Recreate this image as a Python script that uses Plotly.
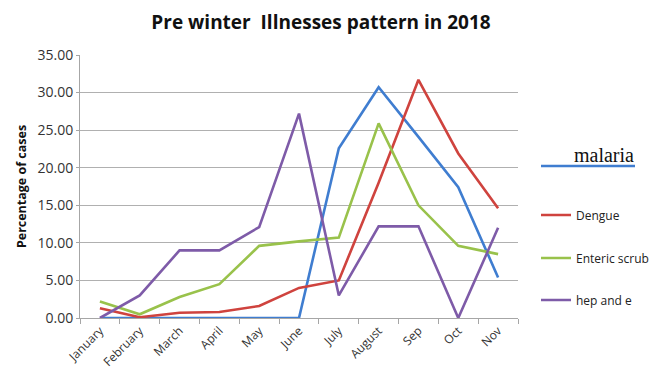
import plotly.graph_objects as go

months = ["January", "February", "March", "April", "May", "June",
          "July", "August", "Sep", "Oct", "Nov"]
malaria = [0, 0, 0, 0, 0, 0, 22.6, 30.7, 24.1, 17.4, 5.4]
dengue = [1.3, 0.1, 0.7, 0.8, 1.6, 4.0, 5.0, 18.0, 31.7, 21.9, 14.6]
enteric = [2.2, 0.5, 2.8, 4.5, 9.6, 10.2, 10.7, 25.9, 15.0, 9.6, 8.5]
hep = [0, 3.0, 9.0, 9.0, 12.1, 27.2, 3.0, 12.2, 12.2, 0, 12.0]
y_ticks = [0, 5, 10, 15, 20, 25, 30, 35]

blue = "#3F7DD0"
red = "#CF433E"
green = "#99C24B"
purple = "#7E5BA8"

fig = go.Figure()
fig.add_trace(go.Scatter(x=months, y=malaria, mode="lines", name="malaria",
                         line=dict(color=blue, width=2.6), showlegend=False))
fig.add_trace(go.Scatter(x=months, y=dengue, mode="lines", name="Dengue",
                         line=dict(color=red, width=2.6), legend="legend"))
fig.add_trace(go.Scatter(x=months, y=enteric, mode="lines", name="Enteric scrub",
                         line=dict(color=green, width=2.6), legend="legend2"))
fig.add_trace(go.Scatter(x=months, y=hep, mode="lines", name="hep and e",
                         line=dict(color=purple, width=2.6), legend="legend3"))

FONT = "Open Sans, Liberation Sans, sans-serif"
legfont = dict(family=FONT, size=12, color="#222222")

def leg(ypx):
    return dict(x=(536 - 80) / 438, xanchor="left", y=(318 - ypx) / 263, yanchor="middle",
                font=legfont, bgcolor="rgba(0,0,0,0)", borderwidth=0,
                itemwidth=30, tracegroupgap=0)

fig.update_layout(
    width=662, height=374,
    margin=dict(l=80, r=144, t=55, b=56, autoexpand=False),
    paper_bgcolor="white", plot_bgcolor="white",
    title=dict(text="<b>Pre winter  Illnesses pattern in 2018</b>",
               x=321 / 662, xanchor="center", y=1 - 22 / 374, yanchor="middle",
               xref="container", yref="container",
               font=dict(family=FONT, size=19, color="#111111")),
    xaxis=dict(type="category", tickson="boundaries", ticks="outside", ticklen=5,
               range=[-0.5, 10.5], automargin=False,
               tickcolor="#A6A6A6", showline=True, linecolor="#A6A6A6", linewidth=1,
               showgrid=False, tickangle=-45,
               tickfont=dict(family=FONT, size=12, color="#333333")),
    yaxis=dict(range=[0, 35], tickvals=y_ticks, tickformat=".2f", automargin=False,
               showgrid=True, gridcolor="#B0B0B0", gridwidth=1,
               showline=True, linecolor="#A6A6A6", ticks="outside", ticklen=3,
               tickcolor="#A6A6A6", zeroline=False,
               tickfont=dict(family=FONT, size=14, color="#333333"),
               title=dict(text="<b>Percentage of cases</b>", standoff=8,
                          font=dict(family=FONT, size=12.5, color="#111111"))),
    legend=leg(215), legend2=leg(258), legend3=leg(300),
)

# malaria legend entry (underlined style)
fig.add_shape(type="line", xref="paper", yref="paper",
              x0=(541 - 80) / 438, x1=(635 - 80) / 438,
              y0=(318 - 166) / 263, y1=(318 - 166) / 263,
              line=dict(color=blue, width=2.6))
fig.add_annotation(text="malaria", xref="paper", yref="paper",
                   x=(572 - 80) / 438, y=(318 - 155) / 263, xanchor="left", yanchor="middle",
                   showarrow=False,
                   font=dict(family="Liberation Serif, DejaVu Serif, serif", size=20, color="#111111"))

fig.write_html("out.html")
